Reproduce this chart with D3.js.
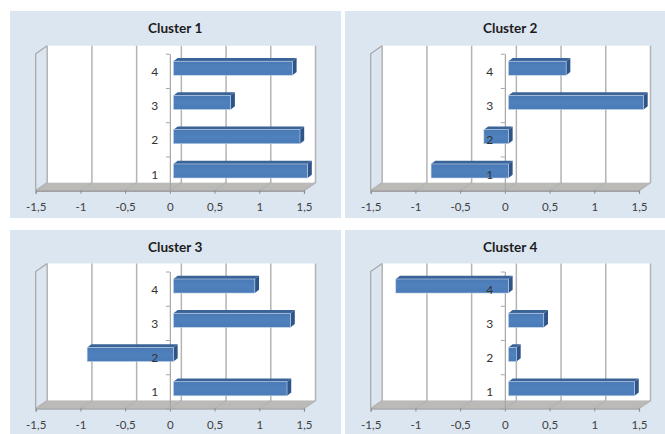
<!DOCTYPE html>
<html>
<head>
<meta charset="utf-8">
<script src="https://cdn.jsdelivr.net/npm/d3@7/dist/d3.min.js"></script>
<style>
  html, body { margin: 0; padding: 0; background: #fff; }
  svg { display: block; }
</style>
</head>
<body>
<svg id="chart" width="665" height="434"></svg>
<script>
// Values per cluster, listed from category 1 to category 4
const categories = ["1", "2", "3", "4"];
const clusterNames = ["Cluster 1", "Cluster 2", "Cluster 3", "Cluster 4"];
const cluster1 = [1.5, 1.415, 0.64, 1.33];
const cluster2 = [-0.865, -0.275, 1.51, 0.645];
const cluster3 = [1.27, -0.965, 1.31, 0.91];
const cluster4 = [1.41, 0.09, 0.395, -1.26];
const xTickValues = [-1.5, -1, -0.5, 0, 0.5, 1, 1.5];
const xTickLabels = ["-1,5", "-1", "-0,5", "0", "0,5", "1", "1,5"];

const seriesByCluster = [cluster1, cluster2, cluster3, cluster4];

// Panel frames
const frames = [
  { x: 10, y: 11, w: 331, h: 207, left: 35.7, base: 190.7 },
  { x: 345, y: 11, w: 320, h: 207, left: 370.7, base: 190.7 },
  { x: 10, y: 230, w: 331, h: 204, left: 35.7, base: 408.5 },
  { x: 345, y: 230, w: 320, h: 204, left: 370.7, base: 408.5 }
];

const plotW = 268.3, plotH = 137;     // front plane of the 3D box
const wallDx = 11.5, wallDy = 8;      // depth of the box
const barDx = 3.6, barDy = 2.6;       // where a bar's front face sits in the box
const capDx = 4.2, capDy = 3.2;       // depth of the bar itself

const svg = d3.select("#chart");
const font = "Lato, 'Open Sans', sans-serif";

const defs = svg.append("defs");
const frontGrad = defs.append("linearGradient").attr("id", "barFront")
  .attr("x1", 0).attr("x2", 0).attr("y1", 0).attr("y2", 1);
frontGrad.append("stop").attr("offset", 0).attr("stop-color", "#4a7ab6");
frontGrad.append("stop").attr("offset", 0.5).attr("stop-color", "#4f81bd");
frontGrad.append("stop").attr("offset", 1).attr("stop-color", "#4a7bb8");

const poly = pts => pts.map(p => p.join(",")).join(" ");

frames.forEach((f, idx) => {
  const values = seriesByCluster[idx];
  const rows = categories.map((c, i) => ({ c, v: values[i] }));
  const g = svg.append("g");

  const x = d3.scaleLinear().domain([-1.5, 1.5]).range([f.left, f.left + plotW]);
  const y = d3.scaleBand().domain(categories)
    .range([f.base, f.base - plotH]).paddingInner(0.59).paddingOuter(0.295);
  const yEdges = d3.scaleLinear().domain([0, categories.length]).range([f.base, f.base - plotH]);
  const top = f.base - plotH;

  // Panel background and title
  g.append("rect").attr("x", f.x).attr("y", f.y).attr("width", f.w).attr("height", f.h)
    .attr("fill", "#dce6f1");
  g.append("text").attr("x", f.left + 139.5).attr("y", f.y + 21.5)
    .attr("text-anchor", "middle").attr("font-family", font)
    .attr("font-size", 13.6).attr("font-weight", 700).attr("fill", "#1c1c1c")
    .text(clusterNames[idx]);

  // Back wall, floor and side wall of the box
  g.append("rect")
    .attr("x", x(-1.5) + wallDx).attr("y", top - wallDy)
    .attr("width", plotW).attr("height", plotH)
    .attr("fill", "#fff");
  g.append("polygon")
    .attr("points", poly([
      [x(-1.5), f.base], [x(1.5), f.base],
      [x(1.5) + wallDx, f.base - wallDy], [x(-1.5) + wallDx, f.base - wallDy]
    ]))
    .attr("fill", "#bcbab7");
  g.append("polyline")
    .attr("points", poly([
      [x(-1.5), f.base], [x(-1.5), top],
      [x(-1.5) + wallDx, top - wallDy]
    ]))
    .attr("fill", "none").attr("stroke", "#a6a6a6").attr("stroke-width", 1.2);

  // Gridlines run up the back wall and across the floor
  xTickValues.forEach(v => {
    g.append("polyline")
      .attr("points", poly([
        [x(v), f.base],
        [x(v) + wallDx, f.base - wallDy],
        [x(v) + wallDx, top - wallDy]
      ]))
      .attr("fill", "none").attr("stroke", "#b4b4b4").attr("stroke-width", 1.5);
  });

  // Value axis along the front of the floor
  const xAxis = d3.axisBottom(x).tickValues(xTickValues)
    .tickFormat((d, i) => xTickLabels[i]).tickSize(3).tickPadding(9);
  const xG = g.append("g").attr("transform", `translate(0,${f.base})`).call(xAxis);
  xG.select(".domain").attr("stroke", "#8c8c8c").attr("stroke-width", 1.2);
  xG.selectAll(".tick line").attr("stroke", "#8c8c8c");
  xG.selectAll(".tick text").attr("font-family", font).attr("font-size", 11.5)
    .attr("fill", "#404040");

  // Category axis at zero
  const yAxis = d3.axisLeft(yEdges).tickValues(d3.range(categories.length + 1))
    .tickFormat("").tickSize(4).tickSizeOuter(0);
  const yG = g.append("g").attr("transform", `translate(${x(0)},0)`).call(yAxis);
  yG.select(".domain").attr("stroke", "#a6a6a6").attr("stroke-width", 1.2);
  yG.selectAll(".tick line").attr("stroke", "#a6a6a6");

  // Bars: side, top, then front face
  const bars = g.selectAll(".bar").data(rows).join("g").attr("class", "bar");
  const x0 = d => x(Math.min(0, d.v)) + barDx;
  const x1 = d => x(Math.max(0, d.v)) + barDx;
  const yT = d => y(d.c) - barDy;
  const yB = d => yT(d) + y.bandwidth();

  bars.append("polygon")
    .attr("points", d => poly([
      [x1(d), yT(d)], [x1(d) + capDx, yT(d) - capDy],
      [x1(d) + capDx, yB(d) - capDy], [x1(d), yB(d)]
    ]))
    .attr("fill", "#2f5488");
  bars.append("polygon")
    .attr("points", d => poly([
      [x0(d), yT(d)], [x0(d) + capDx, yT(d) - capDy],
      [x1(d) + capDx, yT(d) - capDy], [x1(d), yT(d)]
    ]))
    .attr("fill", "#3a6397");
  bars.append("rect")
    .attr("x", x0).attr("y", yT)
    .attr("width", d => x1(d) - x0(d)).attr("height", y.bandwidth())
    .attr("fill", "url(#barFront)")
    .attr("stroke", "#c3d5ea").attr("stroke-width", 0.6);

  // Category labels sit beside the zero axis and stay above the bars
  g.selectAll(".cat").data(rows).join("text").attr("class", "cat")
    .attr("x", x(0) - 15).attr("y", d => y(d.c) + y.bandwidth() / 2 + 5)
    .attr("text-anchor", "middle").attr("font-family", font)
    .attr("font-size", 12).attr("fill", "#333")
    .text(d => d.c);
});
</script>
</body>
</html>
